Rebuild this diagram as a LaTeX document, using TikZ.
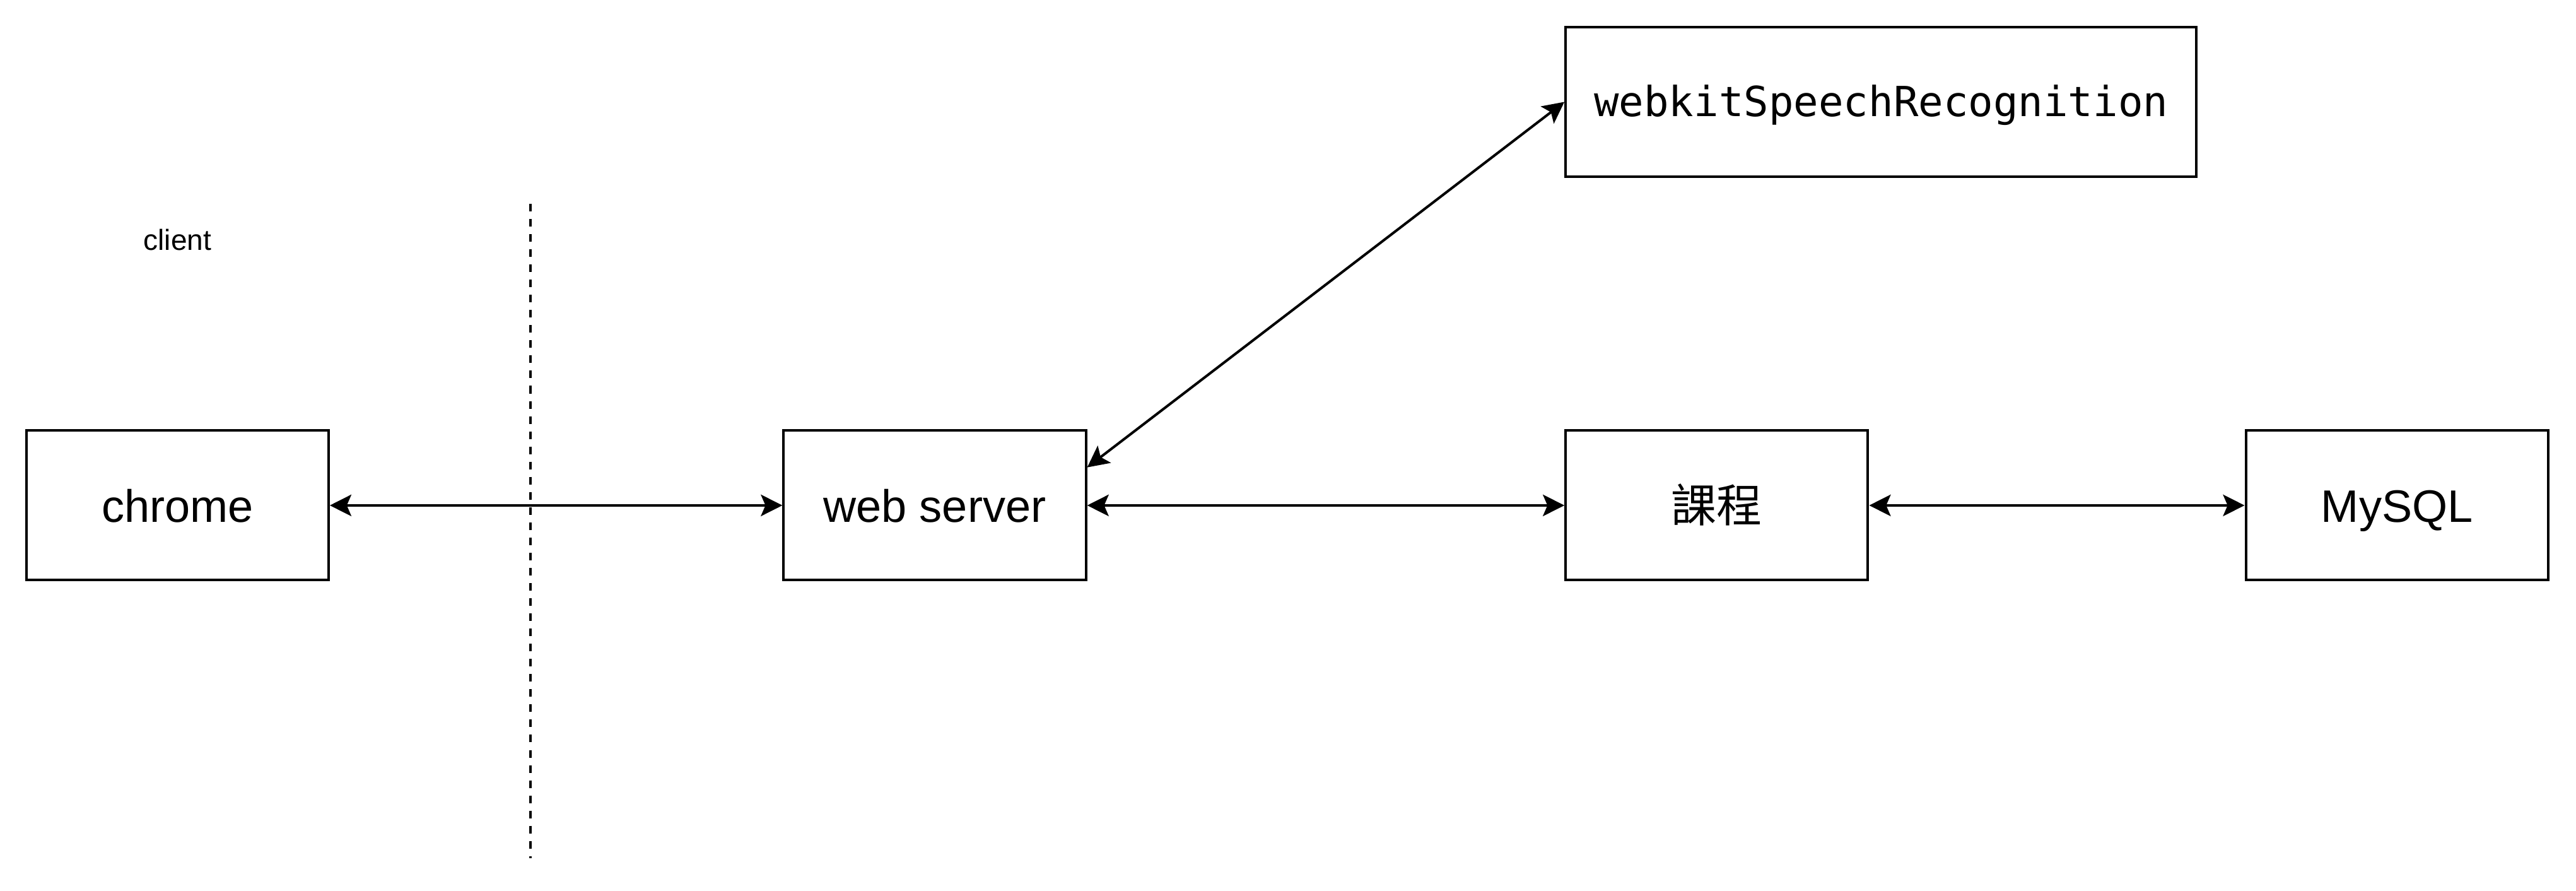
\documentclass[tikz,border=0pt]{standalone}
\usepackage{fontspec}
\setmainfont{Liberation Sans}
\newfontfamily\monofnt{DejaVu Sans Mono}
\newfontfamily\cjkfnt{Noto Sans CJK TC}
\usetikzlibrary{arrows.meta,calc}
\begin{document}
\begin{tikzpicture}[x=0.65pt,y=-0.65pt,
  box/.style={draw,line width=1pt,minimum width=119.6pt,minimum height=59.15pt,inner sep=0pt,text height=13.1pt,text depth=0pt,font=\fontsize{18}{20}\selectfont},
  tip/.style={Stealth[length=8.5pt,width=8.5pt,inset=1.8pt]},
  conn/.style={line width=1pt,{Stealth[length=8.5pt,width=8.5pt,inset=1.8pt]}-{Stealth[length=8.5pt,width=8.5pt,inset=1.8pt]}}]
\useasboundingbox (0,0) rectangle (1568,542);
\node[box] (chrome) at (108,307.5) {chrome};
\node[box] (web) at (569,307.5) {web server};
\node[box,minimum width=249.6pt,text height=11.5pt,font=\monofnt\fontsize{16.4}{18}\selectfont] (speech) at (1145,62) {webkitSpeechRecognition};
\node[box,font=\cjkfnt\fontsize{18}{20}\selectfont] (course) at (1045,307.5) {課程};
\node[box] (mysql) at (1459,307.5) {MySQL};
\node[font=\fontsize{11.5}{13}\selectfont] (client) at (108,146) {client};
\coordinate (dtop) at (323,124);
\coordinate (dbot) at (323,522);
\draw[line width=1pt,dash pattern=on 3pt off 3pt] (dtop) -- (dbot);
\draw[conn] (chrome.east) -- (web.west);
\draw[conn] (web.east) -- (course.west);
\draw[conn] (course.east) -- (mysql.west);
\coordinate (webexit) at ($(web.north east)!0.25!(web.south east)$);
\draw[conn] (webexit) -- (speech.west);
\end{tikzpicture}
\end{document}
